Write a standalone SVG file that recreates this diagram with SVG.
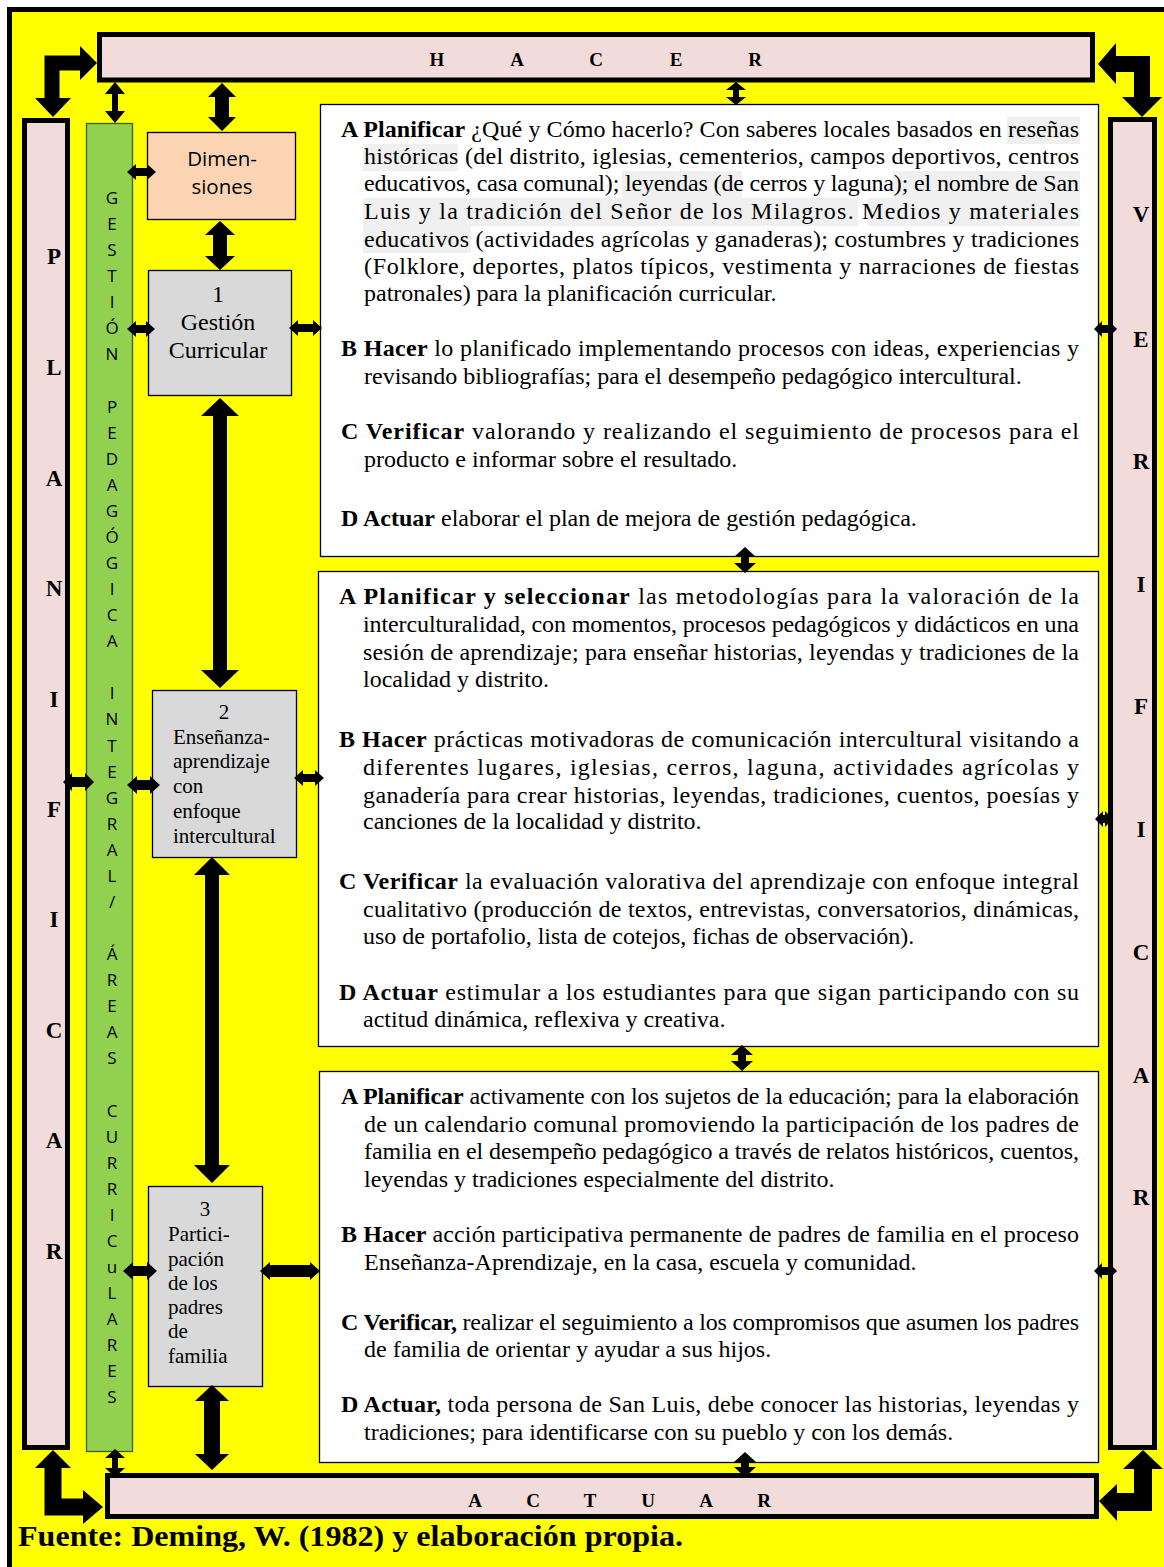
<svg xmlns="http://www.w3.org/2000/svg" width="1164" height="1567" viewBox="0 0 1164 1567">
<style>
.t{font-family:"Liberation Serif","Times New Roman",serif;font-size:24px;fill:#000}
.b{font-weight:bold}
.bar{fill:#F2DCDB;stroke:#000;stroke-width:5}
.bl{font-family:"Liberation Serif","Times New Roman",serif;font-weight:bold;font-size:23px;text-anchor:middle;fill:#000}
.bh{font-family:"Liberation Serif","Times New Roman",serif;font-weight:bold;font-size:19px;text-anchor:middle;fill:#000}
.gl{font-family:"Open Sans","Liberation Sans",sans-serif;font-size:17px;text-anchor:middle;fill:#000}
.box{fill:#fff;stroke:#000;stroke-width:1.3}
.grey{fill:#D9D9D9;stroke:#000;stroke-width:1.3}
.lbl{font-family:"Liberation Serif","Times New Roman",serif;fill:#000}
.hl{fill:#F0F0F0}
.arr{fill:#000;stroke:none}
.shaft{fill:none;stroke:#000;stroke-linejoin:miter;stroke-linecap:butt}
</style>
<rect x="0" y="0" width="1164" height="1567" fill="#fff"/>
<rect x="9.5" y="9.5" width="1200" height="1600" fill="#FFFF00" stroke="#000" stroke-width="5"/>

<g id="hacer">
<rect class="bar" x="99.5" y="34.5" width="993" height="45.5"/>
<text class="bh" y="66"><tspan x="437">H</tspan><tspan x="517">A</tspan><tspan x="596">C</tspan><tspan x="676">E</tspan><tspan x="755">R</tspan></text>
</g>
<g id="planificar">
<rect class="bar" x="24.5" y="120.5" width="43" height="1327"/>
<text class="bl"><tspan x="54" y="264">P</tspan><tspan x="54" y="375">L</tspan><tspan x="54" y="486">A</tspan><tspan x="54" y="596">N</tspan><tspan x="54" y="707">I</tspan><tspan x="54" y="817">F</tspan><tspan x="54" y="927">I</tspan><tspan x="54" y="1038">C</tspan><tspan x="54" y="1148">A</tspan><tspan x="54" y="1259">R</tspan></text>
</g>
<g id="verificar">
<rect class="bar" x="1110.5" y="119.5" width="44" height="1328"/>
<text class="bl"><tspan x="1141" y="222">V</tspan><tspan x="1141" y="347">E</tspan><tspan x="1141" y="469">R</tspan><tspan x="1141" y="592">I</tspan><tspan x="1141" y="714">F</tspan><tspan x="1141" y="837">I</tspan><tspan x="1141" y="960">C</tspan><tspan x="1141" y="1083">A</tspan><tspan x="1141" y="1205">R</tspan></text>
</g>
<g id="actuar">
<rect class="bar" x="107.5" y="1475.5" width="989" height="41"/>
<text class="bh" y="1507"><tspan x="475">A</tspan><tspan x="533">C</tspan><tspan x="590">T</tspan><tspan x="648">U</tspan><tspan x="706">A</tspan><tspan x="764">R</tspan></text>
</g>

<g id="gestion">
<rect x="86.5" y="123.5" width="46" height="1328" fill="#92D050" stroke="#3B5E1F" stroke-width="1.3"/>
<text class="gl"><tspan x="112" y="204">G</tspan><tspan x="112" y="230.1">E</tspan><tspan x="112" y="256.1">S</tspan><tspan x="112" y="282.2">T</tspan><tspan x="112" y="308.3">I</tspan><tspan x="112" y="334.4">Ó</tspan><tspan x="112" y="360.4">N</tspan><tspan x="112" y="412.6">P</tspan><tspan x="112" y="438.6">E</tspan><tspan x="112" y="464.7">D</tspan><tspan x="112" y="490.8">A</tspan><tspan x="112" y="516.8">G</tspan><tspan x="112" y="542.9">Ó</tspan><tspan x="112" y="569">G</tspan><tspan x="112" y="595.1">I</tspan><tspan x="112" y="621.1">C</tspan><tspan x="112" y="647.2">A</tspan><tspan x="112" y="699.3">I</tspan><tspan x="112" y="725.4">N</tspan><tspan x="112" y="751.5">T</tspan><tspan x="112" y="777.6">E</tspan><tspan x="112" y="803.6">G</tspan><tspan x="112" y="829.7">R</tspan><tspan x="112" y="855.8">A</tspan><tspan x="112" y="881.8">L</tspan><tspan x="112" y="907.9">/</tspan><tspan x="112" y="960">Á</tspan><tspan x="112" y="986.1">R</tspan><tspan x="112" y="1012.2">E</tspan><tspan x="112" y="1038.3">A</tspan><tspan x="112" y="1064.4">S</tspan><tspan x="112" y="1116.5">C</tspan><tspan x="112" y="1142.5">U</tspan><tspan x="112" y="1168.6">R</tspan><tspan x="112" y="1194.7">R</tspan><tspan x="112" y="1220.8">I</tspan><tspan x="112" y="1246.8">C</tspan><tspan x="112" y="1272.9">u</tspan><tspan x="112" y="1299">L</tspan><tspan x="112" y="1325">A</tspan><tspan x="112" y="1351.1">R</tspan><tspan x="112" y="1377.2">E</tspan><tspan x="112" y="1403.2">S</tspan></text>
</g>

<g id="dimensiones">
<rect x="147.5" y="132.5" width="148" height="87" fill="#FBD4B4" stroke="#000" stroke-width="1.3"/>
<text font-family="'Open Sans','Liberation Sans',sans-serif" font-size="20.5" text-anchor="middle"><tspan x="222" y="166">Dimen-</tspan><tspan x="222" y="194">siones</tspan></text>
</g>

<g id="box1">
<rect class="grey" x="148.5" y="270.5" width="143" height="125"/>
<text class="lbl" font-size="24" text-anchor="middle"><tspan x="218" y="302">1</tspan><tspan x="218" y="330">Gestión</tspan><tspan x="218" y="358">Curricular</tspan></text>
</g>
<g id="box2">
<rect class="grey" x="152.5" y="690.5" width="144" height="167"/>
<text class="lbl" font-size="21"><tspan x="224" y="719" text-anchor="middle">2</tspan><tspan x="173" y="744">Enseñanza-</tspan><tspan x="173" y="768">aprendizaje</tspan><tspan x="173" y="793">con</tspan><tspan x="173" y="818">enfoque</tspan><tspan x="173" y="843">intercultural</tspan></text>
</g>
<g id="box3">
<rect class="grey" x="148.5" y="1186.5" width="114" height="200"/>
<text class="lbl" font-size="21"><tspan x="205" y="1216" text-anchor="middle">3</tspan><tspan x="168" y="1241">Partici-</tspan><tspan x="168" y="1266">pación</tspan><tspan x="168" y="1290">de los</tspan><tspan x="168" y="1314">padres</tspan><tspan x="168" y="1338">de</tspan><tspan x="168" y="1363">familia</tspan></text>
</g>

<g id="text1">
<rect class="box" x="320.5" y="104.5" width="778" height="452"/>
<rect class="hl" x="1007" y="117" width="73" height="27"/>
<rect class="hl" x="363" y="144" width="95" height="27"/>
<rect class="hl" x="622" y="171" width="120" height="27"/>
<rect class="hl" x="893" y="171" width="187" height="27"/>
<rect class="hl" x="363" y="198" width="495" height="28"/>
<rect class="hl" x="868" y="198" width="212" height="28"/>
<rect class="hl" x="363" y="226" width="108" height="27"/>
<text class="t" x="341" y="137" textLength="738" lengthAdjust="spacing"><tspan class="b">A Planificar</tspan> ¿Qué y Cómo hacerlo? Con saberes locales basados en reseñas</text>
<text class="t" x="364" y="164" textLength="715" lengthAdjust="spacing">históricas (del distrito, iglesias, cementerios, campos deportivos, centros</text>
<text class="t" x="364" y="191" textLength="715" lengthAdjust="spacing">educativos, casa comunal); leyendas (de cerros y laguna); el nombre de San</text>
<text class="t" x="364" y="219" textLength="715" lengthAdjust="spacing">Luis y la tradición del Señor de los Milagros. Medios y materiales</text>
<text class="t" x="364" y="247" textLength="715" lengthAdjust="spacing">educativos (actividades agrícolas y ganaderas); costumbres y tradiciones</text>
<text class="t" x="364" y="274" textLength="715" lengthAdjust="spacing">(Folklore, deportes, platos típicos, vestimenta y narraciones de fiestas</text>
<text class="t" x="364" y="301">patronales) para la planificación curricular.</text>
<text class="t" x="341" y="356" textLength="738" lengthAdjust="spacing"><tspan class="b">B Hacer</tspan> lo planificado implementando procesos con ideas, experiencias y</text>
<text class="t" x="364" y="384">revisando bibliografías; para el desempeño pedagógico intercultural.</text>
<text class="t" x="341" y="439" textLength="738" lengthAdjust="spacing"><tspan class="b">C Verificar</tspan> valorando y realizando el seguimiento de procesos para el</text>
<text class="t" x="364" y="467">producto e informar sobre el resultado.</text>
<text class="t" x="341" y="526"><tspan class="b">D Actuar</tspan> elaborar el plan de mejora de gestión pedagógica.</text>
</g>

<g id="text2">
<rect class="box" x="318.5" y="571.5" width="780" height="475"/>
<text class="t" x="339" y="604" textLength="740" lengthAdjust="spacing"><tspan class="b">A Planificar y seleccionar</tspan> las metodologías para la valoración de la</text>
<text class="t" x="363" y="632" textLength="716" lengthAdjust="spacing">interculturalidad, con momentos, procesos pedagógicos y didácticos en una</text>
<text class="t" x="363" y="660" textLength="716" lengthAdjust="spacing">sesión de aprendizaje; para enseñar historias, leyendas y tradiciones de la</text>
<text class="t" x="363" y="687">localidad y distrito.</text>
<text class="t" x="339" y="747" textLength="740" lengthAdjust="spacing"><tspan class="b">B Hacer</tspan> prácticas motivadoras de comunicación intercultural visitando a</text>
<text class="t" x="363" y="775" textLength="716" lengthAdjust="spacing">diferentes lugares, iglesias, cerros, laguna, actividades agrícolas y</text>
<text class="t" x="363" y="803" textLength="716" lengthAdjust="spacing">ganadería para crear historias, leyendas, tradiciones, cuentos, poesías y</text>
<text class="t" x="363" y="829">canciones de la localidad y distrito.</text>
<text class="t" x="339" y="889" textLength="740" lengthAdjust="spacing"><tspan class="b">C Verificar</tspan> la evaluación valorativa del aprendizaje con enfoque integral</text>
<text class="t" x="363" y="917" textLength="716" lengthAdjust="spacing">cualitativo (producción de textos, entrevistas, conversatorios, dinámicas,</text>
<text class="t" x="363" y="944">uso de portafolio, lista de cotejos, fichas de observación).</text>
<text class="t" x="339" y="1000" textLength="740" lengthAdjust="spacing"><tspan class="b">D Actuar</tspan> estimular a los estudiantes para que sigan participando con su</text>
<text class="t" x="363" y="1027">actitud dinámica, reflexiva y creativa.</text>
</g>

<g id="text3">
<rect class="box" x="319.5" y="1071.5" width="779" height="391"/>
<text class="t" x="341" y="1104" textLength="738" lengthAdjust="spacing"><tspan class="b">A Planificar</tspan> activamente con los sujetos de la educación; para la elaboración</text>
<text class="t" x="364" y="1132" textLength="715" lengthAdjust="spacing">de un calendario comunal promoviendo la participación de los padres de</text>
<text class="t" x="364" y="1159" textLength="715" lengthAdjust="spacing">familia en el desempeño pedagógico a través de relatos históricos, cuentos,</text>
<text class="t" x="364" y="1187">leyendas y tradiciones especialmente del distrito.</text>
<text class="t" x="341" y="1242" textLength="738" lengthAdjust="spacing"><tspan class="b">B Hacer</tspan> acción participativa permanente de padres de familia en el proceso</text>
<text class="t" x="364" y="1270">Enseñanza-Aprendizaje, en la casa, escuela y comunidad.</text>
<text class="t" x="341" y="1330" textLength="738" lengthAdjust="spacing"><tspan class="b">C Verificar,</tspan> realizar el seguimiento a los compromisos que asumen los padres</text>
<text class="t" x="364" y="1357">de familia de orientar y ayudar a sus hijos.</text>
<text class="t" x="341" y="1412" textLength="738" lengthAdjust="spacing"><tspan class="b">D Actuar,</tspan> toda persona de San Luis, debe conocer las historias, leyendas y</text>
<text class="t" x="364" y="1440">tradiciones; para identificarse con su pueblo y con los demás.</text>
</g>

<g id="connectors">
<path class="shaft" stroke-width="15" d="M52 99 L52 63 L82 63"/>
<polygon class="arr" points="80,46 97,63 80,80"/>
<polygon class="arr" points="35,98 53,117 71,98"/>
<path class="shaft" stroke-width="16" d="M1115 64 L1142 64 L1142 98"/>
<polygon class="arr" points="1116,43 1098,64 1116,84"/>
<polygon class="arr" points="1122,97 1142,117 1162,97"/>
<path class="shaft" stroke-width="17" d="M53 1467 L53 1507 L84 1507"/>
<polygon class="arr" points="35,1468 53,1450 71,1468"/>
<polygon class="arr" points="83,1490 103,1507 83,1524"/>
<path class="shaft" stroke-width="18" d="M1117 1502 L1143 1502 L1143 1468"/>
<polygon class="arr" points="1117,1484 1099,1501 1117,1521"/>
<polygon class="arr" points="1123,1469 1143,1450 1163,1469"/>

<polygon class="arr" points="127,172 136,164 136,168 147,168 147,164 156,172 147,180 147,176 136,176 136,180"/>
<polygon class="arr" points="127,329 136,321 136,325 146,325 146,321 155,329 146,337 146,333 136,333 136,337"/>
<polygon class="arr" points="289,328 298,320 298,324 313,324 313,320 322,328 313,336 313,332 298,332 298,336"/>
<polygon class="arr" points="63,782 72,773 72,777 85,777 85,773 94,782 85,791 85,787 72,787 72,791"/>
<polygon class="arr" points="127,785 137,776 137,780 150,780 150,776 160,785 150,794 150,790 137,790 137,794"/>
<polygon class="arr" points="294,778 303,770 303,774 315,774 315,770 324,778 315,786 315,782 303,782 303,786"/>
<polygon class="arr" points="123,1271 133,1262 133,1266 147,1266 147,1262 157,1271 147,1280 147,1276 133,1276 133,1280"/>
<polygon class="arr" points="260,1271 270,1262 270,1265 310,1265 310,1262 320,1271 310,1280 310,1277 270,1277 270,1280"/>
<polygon class="arr" points="1094,329 1102,321 1102,325 1109,325 1109,321 1117,329 1109,337 1109,333 1102,333 1102,337"/>
<polygon class="arr" points="1095,819 1103,811 1103,815 1105,815 1105,811 1113,819 1105,827 1105,823 1103,823 1103,827"/>
<polygon class="arr" points="1094,1271 1102,1263 1102,1267 1109,1267 1109,1263 1117,1271 1109,1279 1109,1275 1102,1275 1102,1279"/>

<polygon class="arr" points="115,82 125,94 118,94 118,111 125,111 115,123 105,111 112,111 112,94 105,94"/>
<polygon class="arr" points="222,83 236,97 229,97 229,117 236,117 222,131 208,117 215,117 215,97 208,97"/>
<polygon class="arr" points="220,221 235,235 227,235 227,256 235,256 220,270 205,256 213,256 213,235 205,235"/>
<polygon class="arr" points="220,398 239,416 227,416 227,670 239,670 220,688 201,670 213,670 213,416 201,416"/>
<polygon class="arr" points="212,857 230,875 219,875 219,1165 230,1165 212,1183 194,1165 205,1165 205,875 194,875"/>
<polygon class="arr" points="212,1385 229,1401 220,1401 220,1454 229,1454 212,1470 195,1454 204,1454 204,1401 195,1401"/>
<polygon class="arr" points="115,1449 125,1458 118,1458 118,1468 125,1468 115,1477 105,1468 112,1468 112,1458 105,1458"/>
<polygon class="arr" points="736,82 746,90 739,90 739,97 746,97 736,105 726,97 733,97 733,90 726,90"/>
<polygon class="arr" points="745,547 756,557 749,557 749,563 756,563 745,573 734,563 741,563 741,557 734,557"/>
<polygon class="arr" points="742,1045 753,1055 746,1055 746,1061 753,1061 742,1071 731,1061 738,1061 738,1055 731,1055"/>
<polygon class="arr" points="745,1452 756,1462 749,1462 749,1467 756,1467 745,1477 734,1467 741,1467 741,1462 734,1462"/>
</g>

<text x="18" y="1546" font-family="'Liberation Serif','Times New Roman',serif" font-weight="bold" font-size="30" textLength="665" lengthAdjust="spacingAndGlyphs">Fuente: Deming, W. (1982) y elaboración propia.</text>
</svg>
